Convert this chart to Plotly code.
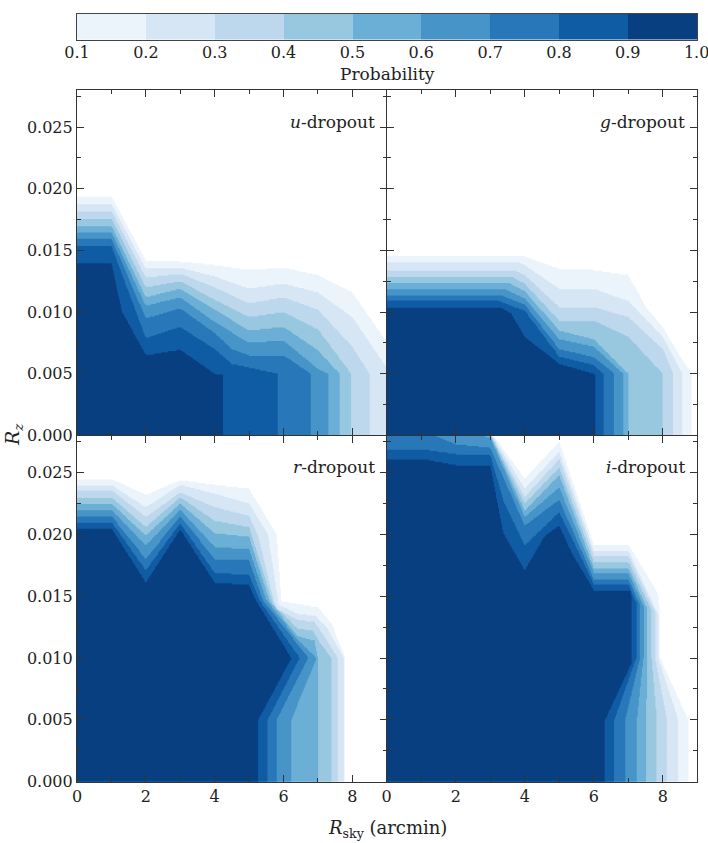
import numpy as np
import plotly.graph_objects as go

# ---------------- data ----------------
PROB_LEVELS = [0.1, 0.2, 0.3, 0.4, 0.5, 0.6, 0.7, 0.8, 0.9]
BAND_COLORS = ["#ECF4FB", "#D6E6F4", "#BDD7EC", "#98C7E0", "#6BAED6",
               "#4795C8", "#2878B9", "#105CA4", "#083F81"]
COLORBAR_TICKS = [0.1, 0.2, 0.3, 0.4, 0.5, 0.6, 0.7, 0.8, 0.9, 1.0]
X_TICKS = [0, 2, 4, 6, 8]
Y_TICKS = [0.000, 0.005, 0.010, 0.015, 0.020, 0.025]
PANEL_NAMES = ["u", "g", "r", "i"]

# Boundary of the region where probability >= level.
# points are (R_sky [arcmin], R_z [units of 1e-3]), from the R_z axis to the R_sky axis
u_dropout = {
    0.9: [(0, 14.0), (1, 14.0), (1.3, 10.1), (2, 6.5), (3, 6.95), (4, 5.0), (4.25, 5.0), (4.25, 0)],
    0.8: [(0, 15.35), (1, 15.35), (2, 7.9), (3, 8.8), (4, 7.0), (4.5, 5.8), (5, 5.5), (5.85, 5.0), (5.85, 0)],
    0.7: [(0, 16.0), (1, 16.0), (2, 9.5), (3, 10.3), (4, 8.3), (4.5, 7.0), (5, 6.5), (6, 6.5), (6.8, 5.0), (6.8, 0)],
    0.6: [(0, 16.5), (1, 16.5), (2, 10.5), (3, 11.2), (4, 9.2), (5, 7.5), (6, 7.7), (7, 5.4), (7.3, 5.0), (7.3, 0)],
    0.5: [(0, 17.0), (1, 17.0), (2, 11.2), (3, 11.9), (4, 10.2), (5, 8.5), (6, 8.8), (7, 6.9), (7.63, 5.0), (7.63, 0)],
    0.4: [(0, 17.6), (1, 17.6), (2, 12.0), (3, 12.5), (4, 11.0), (5, 9.6), (6, 10.0), (7, 8.6), (7.97, 5.0), (7.97, 0)],
    0.3: [(0, 18.2), (1, 18.2), (2, 12.8), (3, 13.1), (4, 12.0), (5, 10.7), (6, 11.2), (7, 10.2), (8, 7.2), (8.5, 5.0), (8.5, 0)],
    0.2: [(0, 18.8), (1, 18.8), (2, 13.5), (3, 13.6), (4, 12.9), (5, 11.9), (6, 12.3), (7, 11.6), (8, 9.6), (9, 5.5)],
    0.1: [(0, 19.4), (1, 19.4), (2, 14.2), (3, 14.1), (4, 13.8), (5, 13.4), (6, 13.6), (7, 13.0), (8, 11.6), (9, 7.6)],
}

g_dropout = {
    0.9: [(0, 10.4), (3.3, 10.4), (3.6, 9.9), (4, 8.0), (5, 5.8), (6, 5.0), (6.03, 5.0), (6.03, 0)],
    0.8: [(0, 10.95), (3.2, 10.95), (4, 10.1), (5, 6.4), (6, 5.7), (6.28, 5.0), (6.28, 0)],
    0.7: [(0, 11.4), (3.3, 11.4), (4, 10.6), (5, 7.0), (6, 6.35), (6.6, 5.0), (6.6, 0)],
    0.6: [(0, 11.9), (3.4, 11.9), (4, 11.1), (5, 7.8), (6, 7.2), (6.85, 5.0), (6.85, 0)],
    0.5: [(0, 12.4), (3.5, 12.4), (4, 11.7), (5, 8.5), (6, 7.8), (7, 5.0), (7, 0)],
    0.4: [(0, 12.9), (3.6, 12.9), (4, 12.3), (5, 9.3), (6, 9.3), (7, 8.0), (8, 5.0), (8, 0)],
    0.3: [(0, 13.4), (3.7, 13.4), (4, 13.0), (5, 10.4), (6, 10.4), (7, 9.6), (8, 7.0), (8.3, 5.0), (8.3, 0)],
    0.2: [(0, 14.05), (3.8, 14.05), (4, 13.8), (5, 11.9), (6, 11.9), (7, 10.9), (8, 8.0), (8.57, 5.0), (8.57, 0)],
    0.1: [(0, 14.6), (4, 14.5), (5, 13.5), (6, 13.4), (7, 13.0), (7.5, 10.5), (8, 8.8), (8.5, 6.4), (8.85, 5.0), (8.85, 0)],
}

r_dropout = {
    0.9: [(0, 20.5), (1, 20.5), (2, 16.1), (3, 20.4), (4, 16.1), (5, 15.9), (5.19, 14.7), (6.23, 10.0), (5.27, 5.0), (5.27, 0)],
    0.8: [(0, 21.0), (1, 21.0), (2, 17.1), (3, 20.9), (4, 16.9), (5, 16.7), (5.3, 14.7), (6.47, 10.0), (5.54, 5.0), (5.54, 0)],
    0.7: [(0, 21.5), (1, 21.5), (2, 18.0), (3, 21.5), (4, 18.0), (5, 17.9), (5.4, 14.7), (6.72, 10.0), (5.8, 5.0), (5.8, 0)],
    0.6: [(0, 22.0), (1, 22.0), (2, 19.1), (3, 22.0), (4, 19.0), (5, 18.8), (5.5, 14.7), (6.4, 11.5), (6.96, 10.0), (6.23, 5.0), (6.23, 0)],
    0.5: [(0, 22.5), (1, 22.5), (2, 19.9), (3, 22.5), (4, 20.1), (5, 19.8), (5.6, 14.6), (6.4, 11.8), (6.9, 11.4), (7.0, 10.0), (7.0, 0)],
    0.4: [(0, 23.0), (1, 23.0), (2, 20.6), (3, 23.0), (4, 21.1), (5, 20.6), (5.7, 14.4), (6.4, 12.4), (6.85, 12.2), (7.05, 11.3), (7.39, 10.0), (7.39, 0)],
    0.3: [(0, 23.6), (1, 23.6), (2, 21.4), (3, 23.4), (4, 22.2), (5, 21.5), (5.25, 20.0), (5.78, 14.0), (6.4, 13.1), (6.9, 12.9), (7.15, 11.9), (7.58, 10.0), (7.58, 0)],
    0.2: [(0, 24.0), (1, 24.0), (2, 22.2), (3, 24.0), (4, 23.3), (5, 22.5), (5.55, 20.0), (5.86, 14.3), (6.4, 13.6), (6.95, 13.4), (7.3, 12.3), (7.75, 10.0), (7.75, 0)],
    0.1: [(0, 24.5), (1, 24.5), (2, 23.2), (3, 24.4), (4, 24.0), (5, 23.7), (5.8, 20.0), (5.94, 14.6), (7.0, 14.1), (7.4, 12.8), (7.8, 10.0), (7.8, 0)],
}

i_dropout = {
    0.9: [(0, 26.0), (1, 26.1), (2, 25.6), (3, 25.6), (3.38, 20.1), (4, 17.1), (4.59, 19.9), (5, 20.7), (5.36, 18.5), (6, 15.5), (7.05, 15.5), (7.1, 14.7), (7.1, 9.6), (6.33, 5.0), (6.33, 0)],
    0.8: [(0, 26.8), (1, 26.9), (2, 26.5), (3, 26.4), (3.4, 22.6), (4, 19.1), (5, 21.8), (6, 16.0), (7.0, 16.0), (7.23, 14.5), (7.23, 10.0), (6.6, 5.0), (6.6, 0)],
    0.7: [(0, 28.4), (1, 28.4), (2, 27.3), (3, 27.0), (4, 20.7), (5, 22.8), (6, 16.4), (7, 16.4), (7.34, 14.3), (7.34, 10.0), (6.91, 5.0), (6.91, 0)],
    0.6: [(0, 29.0), (2, 28.5), (3, 27.8), (4, 21.4), (5, 23.8), (6, 16.9), (7, 16.9), (7.44, 14.2), (7.44, 10.0), (7.25, 5.0), (7.25, 0)],
    0.5: [(0, 29.2), (2, 28.7), (3, 28.0), (4, 21.9), (5, 24.8), (6, 17.3), (7, 17.3), (7.55, 14.0), (7.55, 10.0), (7.52, 5.0), (7.52, 0)],
    0.4: [(0, 29.4), (2, 28.9), (3, 28.1), (4, 22.5), (5, 25.4), (6, 17.8), (7, 17.8), (7.68, 13.8), (7.68, 10.0), (7.83, 5.0), (7.83, 0)],
    0.3: [(0, 29.6), (2, 29.1), (3, 28.2), (4, 23.0), (5, 26.1), (6, 18.3), (7, 18.3), (7.78, 13.7), (7.78, 10.0), (8.12, 5.0), (8.12, 0)],
    0.2: [(0, 29.8), (2, 29.3), (3, 28.3), (4, 23.7), (5, 26.7), (6, 18.7), (7, 18.7), (7.87, 13.5), (7.87, 10.0), (8.45, 5.0), (8.45, 0)],
    0.1: [(0, 30.0), (2, 29.5), (3, 28.4), (4, 24.5), (5, 27.5), (6, 19.2), (7, 19.2), (7.85, 15.3), (7.92, 13.4), (7.92, 10.0), (8.74, 5.0), (8.74, 0)],
}

PANELS = [u_dropout, g_dropout, r_dropout, i_dropout]

# ---------------- build probability grids for the contour traces ----------------
GRID_X = np.linspace(0, 9, 301)
GRID_Y = np.linspace(0, 28, 281)          # units of 1e-3
GX, GY = np.meshgrid(GRID_X, GRID_Y)


def closed_polygon(pts):
    poly = [(-1.0, pts[0][1])] + [(float(x), float(y)) for x, y in pts]
    if poly[-1][1] == 0:
        poly[-1] = (poly[-1][0], -1.0)
    else:
        lx, ly = poly[-1]
        poly += [(lx + 1.0, ly), (lx + 1.0, -1.0)]
    poly.append((-1.0, -1.0))
    return poly


def inside(px, py, poly):
    res = np.zeros(px.shape, dtype=bool)
    n = len(poly)
    for k in range(n):
        x1, y1 = poly[k]
        x2, y2 = poly[(k + 1) % n]
        if y1 == y2:
            continue
        cond = (y1 > py) != (y2 > py)
        xint = x1 + (py - y1) * (x2 - x1) / (y2 - y1)
        res ^= cond & (px < xint)
    return res


def prob_grid(bounds):
    count = np.zeros(GX.shape)
    for lev in PROB_LEVELS:
        count += inside(GX, GY, closed_polygon(bounds[lev]))
    return np.round(0.05 + 0.1 * count, 2)


# stepped colour scale: contour band k (0 = below 0.1) sits at k/9
colorscale = []
all_cols = ["#FFFFFF"] + BAND_COLORS
for k, c in enumerate(all_cols):
    lo = max(0.0, (k - 0.5) / 9)
    hi = min(1.0, (k + 0.5) / 9)
    colorscale.append([lo, c])
    colorscale.append([hi, c])

FONT = "DejaVu Serif"
TXT = "#222222"
TICK_SIZE = 16

fig = go.Figure()
axis_ids = ["", "2", "3", "4"]
for idx, bounds in enumerate(PANELS):
    z = prob_grid(bounds)
    fig.add_trace(go.Contour(
        x=GRID_X, y=GRID_Y * 1e-3, z=z,
        autocontour=False,
        contours=dict(start=0.1, end=0.9, size=0.1, coloring="fill", showlines=False),
        line=dict(width=0, smoothing=0),
        colorscale=colorscale, showscale=False, hoverinfo="skip",
        xaxis="x" + axis_ids[idx], yaxis="y" + axis_ids[idx],
    ))

# colour bar drawn as a heat map row
cb_x = [round((a + b) / 2, 3) for a, b in zip(COLORBAR_TICKS[:-1], COLORBAR_TICKS[1:])]
cb_scale = []
for k, c in enumerate(BAND_COLORS):
    cb_scale.append([k / 9, c])
    cb_scale.append([(k + 1) / 9, c])
fig.add_trace(go.Heatmap(
    x=cb_x, y=[0], z=[list(range(9))], zmin=-0.5, zmax=8.5,
    colorscale=cb_scale, showscale=False, hoverinfo="skip",
    xaxis="x5", yaxis="y5", xgap=0, ygap=0,
))

W, H = 708, 843
xl = [77 / W, 386.7 / W]
xr = [386.7 / W, 697.3 / W]
yt = [1 - 435.5 / H, 1 - 90 / H]
yb = [1 - 781.7 / H, 1 - 435.5 / H]

common = dict(showline=True, linecolor="#333333", linewidth=1.2, mirror="ticks",
              ticks="inside", ticklen=7, tickwidth=1, tickcolor="#333333",
              showgrid=False, zeroline=False, automargin=False,
              tickfont=dict(family=FONT, size=TICK_SIZE, color=TXT))


def xaxis(domain, anchor, labels):
    return dict(common, domain=domain, anchor=anchor, range=[0, 9],
                tickvals=X_TICKS, ticktext=[str(v) for v in X_TICKS],
                showticklabels=labels,
                minor=dict(tickvals=[1, 3, 5, 7], ticks="inside", ticklen=4,
                           tickcolor="#333333", showgrid=False))


def yaxis(domain, anchor, labels):
    return dict(common, domain=domain, anchor=anchor, range=[0, 0.028],
                tickvals=Y_TICKS, ticktext=["%.3f" % v for v in Y_TICKS],
                showticklabels=labels,
                minor=dict(tickvals=[0.0025, 0.0075, 0.0125, 0.0175, 0.0225, 0.0275],
                           ticks="inside", ticklen=4, tickcolor="#333333", showgrid=False))


fig.update_layout(
    width=W, height=H, margin=dict(l=0, r=0, t=0, b=0, autoexpand=False),
    paper_bgcolor="white", plot_bgcolor="white", showlegend=False,
    font=dict(family=FONT, color=TXT),
    xaxis=xaxis(xl, "y", False), yaxis=yaxis(yt, "x", True),
    xaxis2=xaxis(xr, "y2", False), yaxis2=yaxis(yt, "x2", False),
    xaxis3=xaxis(xl, "y3", True), yaxis3=yaxis(yb, "x3", True),
    xaxis4=xaxis(xr, "y4", True), yaxis4=yaxis(yb, "x4", False),
    xaxis5=dict(domain=[77 / W, 697 / W], anchor="y5", range=[0.1, 1.0005],
                tickvals=COLORBAR_TICKS, ticktext=["%.1f" % v for v in COLORBAR_TICKS],
                ticks="", showline=True, mirror=True, linecolor="#444444", linewidth=1.2,
                showgrid=False, zeroline=False, automargin=False,
                ticklabeloverflow="allow", ticklabelstandoff=-2,
                tickfont=dict(family=FONT, size=TICK_SIZE, color=TXT)),
    yaxis5=dict(domain=[1 - 39.5 / H, 1 - 14 / H], anchor="x5", range=[-0.5, 0.5],
                showticklabels=False, ticks="", showline=True, mirror=True, automargin=False,
                linecolor="#444444", linewidth=1.2, showgrid=False, zeroline=False),
)

ann = []
label_pos = [("x domain", "y domain", 0.907), ("x2 domain", "y2 domain", 0.907),
             ("x3 domain", "y3 domain", 0.91), ("x4 domain", "y4 domain", 0.91)]
for name, (xr_, yr_, yv) in zip(PANEL_NAMES, label_pos):
    ann.append(dict(text="<i>%s</i>-dropout" % name, xref=xr_, yref=yr_, x=0.968, y=yv,
                    xanchor="right", yanchor="middle", showarrow=False,
                    font=dict(family=FONT, size=17, color=TXT)))
ann.append(dict(text="Probability", xref="paper", yref="paper", x=387 / W, y=1 - 74 / H,
                xanchor="center", yanchor="middle", showarrow=False,
                font=dict(family=FONT, size=17, color=TXT)))
ann.append(dict(text="<i>R</i><sub><i>z</i></sub>", xref="paper", yref="paper",
                x=13 / W, y=1 - 435 / H, textangle=-90, xanchor="center", yanchor="middle",
                showarrow=False, font=dict(family=FONT, size=19, color=TXT)))
ann.append(dict(text="<i>R</i><sub>sky</sub> (arcmin)", xref="paper", yref="paper",
                x=387 / W, y=1 - 829 / H, xanchor="center", yanchor="middle",
                showarrow=False, font=dict(family=FONT, size=18, color=TXT)))
fig.update_layout(annotations=ann)

fig.write_html("out.html")
